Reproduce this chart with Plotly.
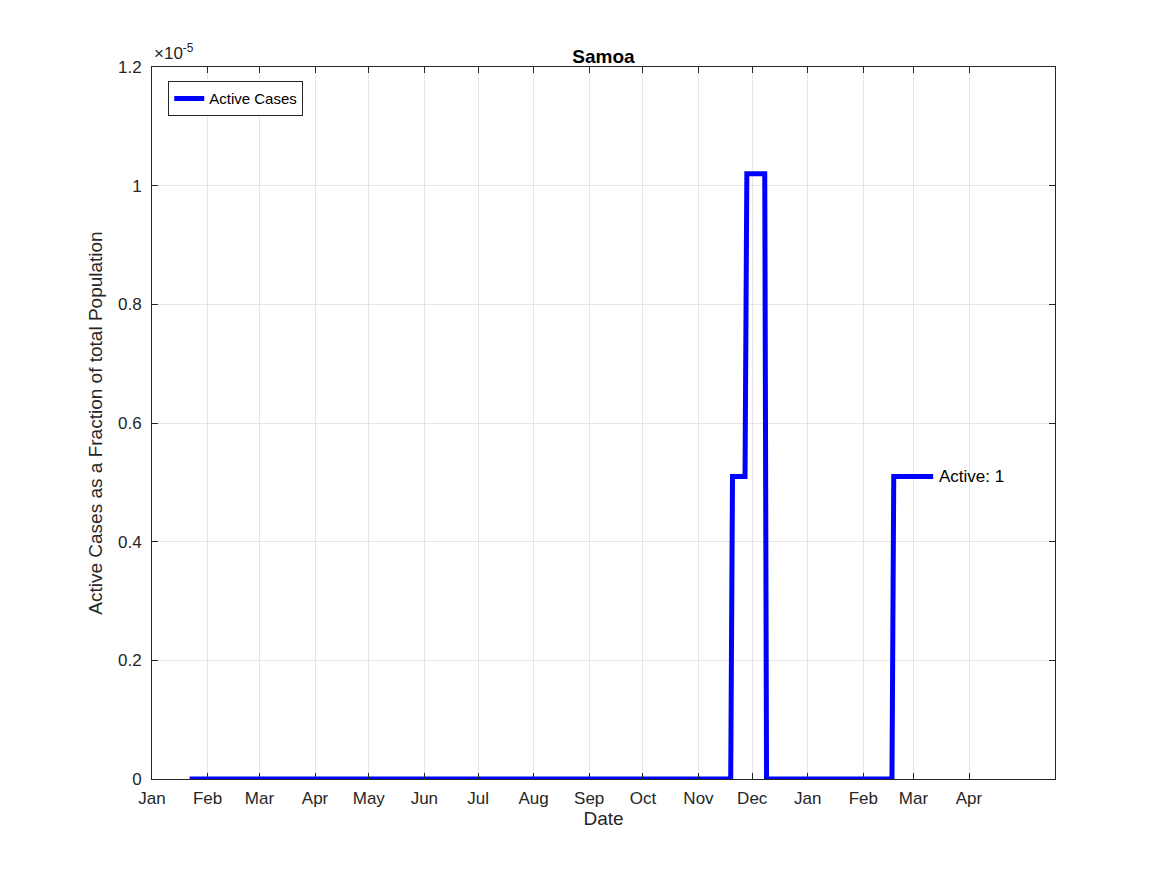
import plotly.graph_objects as go

# data
dates = ["2020-01-22", "2020-11-19", "2020-11-20", "2020-11-27", "2020-11-28",
         "2020-12-08", "2020-12-09", "2021-02-17", "2021-02-18", "2021-03-12"]
active = [0, 0, 5.1e-6, 5.1e-6, 1.02e-5, 1.02e-5, 0, 0, 5.1e-6, 5.1e-6]

tick_dates = ["2020-01-01", "2020-02-01", "2020-03-01", "2020-04-01", "2020-05-01",
              "2020-06-01", "2020-07-01", "2020-08-01", "2020-09-01", "2020-10-01",
              "2020-11-01", "2020-12-01", "2021-01-01", "2021-02-01", "2021-03-01",
              "2021-04-01"]
tick_labels = ["Jan", "Feb", "Mar", "Apr", "May", "Jun", "Jul", "Aug", "Sep", "Oct",
               "Nov", "Dec", "Jan", "Feb", "Mar", "Apr"]
y_ticks = [0, 0.2e-5, 0.4e-5, 0.6e-5, 0.8e-5, 1.0e-5, 1.2e-5]
y_labels = ["0", "0.2", "0.4", "0.6", "0.8", "1", "1.2"]

fig = go.Figure()
fig.add_trace(go.Scatter(x=dates, y=active, mode="lines", name="Active Cases",
                         line=dict(color="#0000ff", width=5)))

fig.add_annotation(x=dates[-1], y=active[-1], text="Active: 1", showarrow=False,
                   xanchor="left", xshift=4, font=dict(size=17, color="black"))
fig.add_annotation(xref="paper", yref="paper", x=0, y=1, text="×10<sup>-5</sup>",
                   showarrow=False, xanchor="left", yanchor="bottom", yshift=2,
                   font=dict(size=17, color="#262626"))

axis = dict(showline=True, linecolor="#262626", mirror="ticks", ticks="inside",
            ticklen=6, tickcolor="#262626", showgrid=True, gridcolor="#e6e6e6",
            zeroline=False, tickfont=dict(size=17, color="#262626"))

fig.update_layout(
    width=1167, height=875,
    paper_bgcolor="white", plot_bgcolor="white",
    font=dict(family="Liberation Sans, Arial", color="#262626"),
    margin=dict(l=144, r=120, t=59, b=104),
    title=dict(text="<b>Samoa</b>", x=0.5, xref="paper", y=1, yref="paper",
               yanchor="bottom", pad=dict(b=4), font=dict(size=19, color="black")),
    xaxis=dict(axis, range=["2020-01-01", "2021-05-19"], tickvals=tick_dates,
               ticktext=tick_labels, ticklabelstandoff=4,
               title=dict(text="Date", font=dict(size=19), standoff=4)),
    yaxis=dict(axis, range=[0, 1.2e-5], tickvals=y_ticks, ticktext=y_labels,
               ticklabelstandoff=6,
               title=dict(text="Active Cases as a Fraction of total Population",
                          font=dict(size=19), standoff=10)),
    legend=dict(x=0.018, y=0.98, xanchor="left", yanchor="top",
                bordercolor="#262626", borderwidth=1, bgcolor="white",
                font=dict(size=15, color="black")),
    showlegend=True,
)

fig.write_html("out.html")
